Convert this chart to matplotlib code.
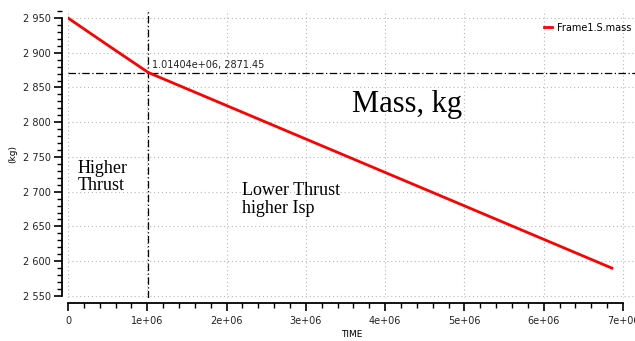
import numpy as np
import matplotlib.pyplot as plt
from matplotlib.ticker import MultipleLocator, FuncFormatter

# data
time = [0, 0.5e6, 1.01404e6, 3.0e6, 5.0e6, 6.86e6]
mass = [2950, 2911, 2871.45, 2775.8, 2679.6, 2590]
kink_t = 1.01404e6
kink_m = 2871.45
yticks = [2550, 2600, 2650, 2700, 2750, 2800, 2850, 2900, 2950]
xticks = [0, 1e6, 2e6, 3e6, 4e6, 5e6, 6e6, 7e6]
xlabels = ['0', '1e+06', '2e+06', '3e+06', '4e+06', '5e+06', '6e+06', '7e+06']

W, H = 635, 341
fig = plt.figure(figsize=(W / 100, H / 100), dpi=100)
ax = fig.add_axes([68 / W, (H - 298) / H, (635 - 68) / W, (298 - 10) / H])

ax.plot(time, mass, color='red', lw=2, label='Frame1.S.mass', zorder=3)

# crosshair
ax.axvline(kink_t, color='black', lw=0.9, ls=(0, (6, 2, 1, 2)), zorder=2)
ax.axhline(kink_m, color='black', lw=0.9, ls=(0, (6, 2, 1, 2)), zorder=2)
ax.text(kink_t + 0.05e6, kink_m + 4, '1.01404e+06, 2871.45', fontsize=7,
        color='#222222', va='bottom', ha='left')

ax.set_xlim(0, 7.151e6)
ax.set_ylim(2547, 2961.5)

ax.set_xticks(xticks)
ax.set_xticklabels(xlabels)
ax.set_yticks(yticks)
ax.yaxis.set_major_formatter(FuncFormatter(lambda v, p: '{:,}'.format(int(v)).replace(',', ' ')))
ax.xaxis.set_minor_locator(MultipleLocator(2e5))
ax.yaxis.set_minor_locator(MultipleLocator(10))

ax.grid(True, which='major', color='#b8b8b8', ls=(0, (1, 2.5)), lw=0.8)

for s in ['top', 'right']:
    ax.spines[s].set_visible(False)
ax.spines['left'].set_position(('outward', 4.5))
ax.spines['bottom'].set_position(('outward', 3.6))
ax.spines['left'].set_bounds(2550, 2950)
ax.spines['bottom'].set_bounds(0, 7e6)
ax.spines['left'].set_linewidth(1.3)
ax.spines['bottom'].set_linewidth(1.3)

ax.tick_params(which='major', length=6, width=1.2, labelsize=7, colors='black', labelcolor='#222222')
ax.tick_params(which='minor', length=3.5, width=1.0)
ax.tick_params(axis='x', pad=3)
ax.tick_params(axis='y', pad=2)

ax.set_ylabel('(kg)', fontsize=6.5, labelpad=4)
ax.set_xlabel('TIME', fontsize=6.5, labelpad=3)

ax.text(4.28e6, 2825, 'Mass, kg', fontsize=22, family='Liberation Serif',
        ha='center', va='center')
ax.text(0.12e6, 2721, 'Higher\nThrust', fontsize=13, family='Liberation Serif',
        ha='left', va='center', linespacing=1.05)
ax.text(2.19e6, 2689, 'Lower Thrust\nhigher Isp', fontsize=13, family='Liberation Serif',
        ha='left', va='center', linespacing=1.05)

leg = ax.legend(loc='upper right', frameon=False, fontsize=7, handlelength=0.8,
                handletextpad=0.5, borderaxespad=0.0, bbox_to_anchor=(1.0, 0.97))

fig.savefig('out.png', dpi=100)
